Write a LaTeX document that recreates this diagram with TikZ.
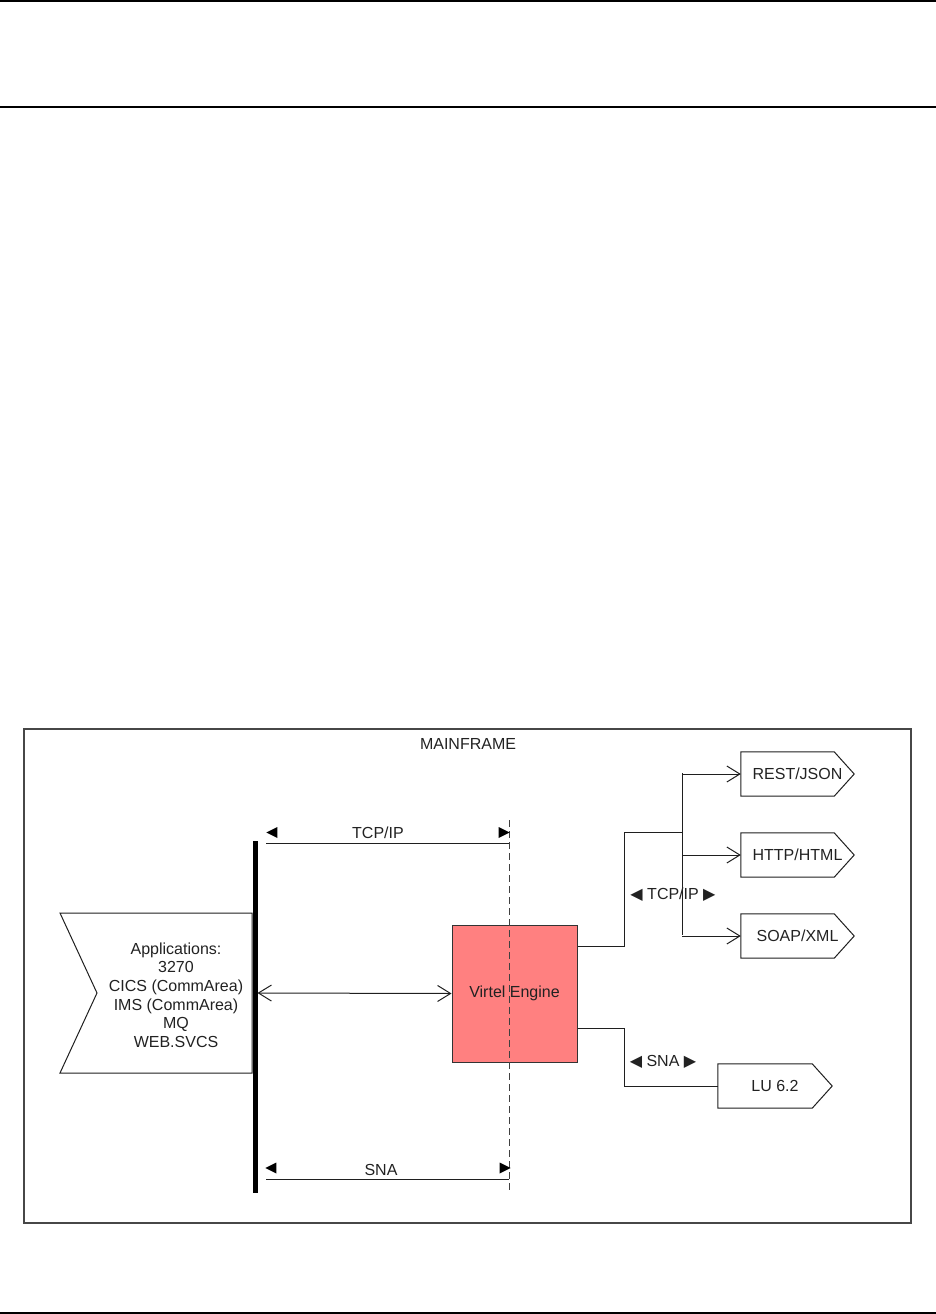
\documentclass[tikz,border=0pt]{standalone}
\usepackage{fontspec}
\setmainfont{Liberation Sans}
\newfontfamily\symfont{DejaVu Sans}
\usetikzlibrary{shapes.geometric,arrows.meta,calc}
\definecolor{virtelred}{RGB}{255,128,128}
\definecolor{txt}{RGB}{34,34,34}
\newcommand{\ltri}{{\symfont\fontsize{16}{16}\selectfont ◀}}
\newcommand{\rtri}{{\symfont\fontsize{16}{16}\selectfont ▶}}
\newcommand{\protoshape}[1]{%
  \draw[conn] (#1.north west) -- ($(#1.north east)+(-20,0)$) -- (#1.east)
    -- ($(#1.south east)+(-20,0)$) -- (#1.south west) -- cycle;}
\begin{document}
\begin{tikzpicture}[x=1pt,y=-1pt,
  every node/.style={font=\fontsize{16}{18.6}\selectfont, text=txt},
  pageline/.style={line width=2pt, black},
  frame/.style={draw=black!72, line width=1.3pt, minimum width=887pt, minimum height=494pt, inner sep=0pt},
  conn/.style={draw=black!88, line width=1pt},
  barb/.style={-{Straight Barb[length=13pt,width=16pt,line width=1pt]}},
  dbarb/.style={{Straight Barb[length=13pt,width=16pt,line width=1pt]}-{Straight Barb[length=13pt,width=16pt,line width=1pt]}},
  proto/.style={minimum width=113pt, minimum height=44pt, inner sep=0pt},
  tri/.style={isosceles triangle, fill=black, draw=none, inner sep=0pt, minimum height=11pt, minimum width=11pt, isosceles triangle stretches},
  dashline/.style={draw=black!75, line width=1pt, dash pattern=on 7pt off 4pt}
]
\useasboundingbox (0,0) rectangle (936,1314);

% page rules
\coordinate (p1l) at (0,1); \coordinate (p1r) at (936,1);
\coordinate (p2l) at (0,107); \coordinate (p2r) at (936,107);
\coordinate (p3l) at (0,1313); \coordinate (p3r) at (936,1313);
\draw[pageline] (p1l) -- (p1r);
\draw[pageline] (p2l) -- (p2r);
\draw[pageline] (p3l) -- (p3r);

% mainframe frame
\node[frame, draw] (frame) at (467.5,976) {};
\node[anchor=base] (mf) at (468,749.5) {MAINFRAME};

% applications shape
\coordinate (a1) at (60,913); \coordinate (a2) at (252,913);
\coordinate (a3) at (252,1073); \coordinate (a4) at (60,1073);
\coordinate (a5) at (97,993);
\draw[conn, fill=white] (a1) -- (a2) -- (a3) -- (a4) -- (a5) -- cycle;
\node[align=center] (apps) at (176,995) {Applications:\\3270\\CICS (CommArea)\\IMS (CommArea)\\MQ\\WEB.SVCS};

% thick bar
\coordinate (bartop) at (255,841); \coordinate (barbot) at (255,1193);
\draw[line width=5pt, black] (bartop) -- (barbot);
\coordinate (barmid) at (257.5,993);

% virtel engine
\node[draw=black!80, line width=1pt, fill=virtelred, minimum width=125pt, minimum height=137pt, inner sep=0pt] (virtel) at (514.5,993.5) {};
\coordinate (dtop) at (509,820); \coordinate (dbot) at (509,1191);
\draw[dashline] (dtop) -- (dbot);
\node (vlabel) at (514.5,993.5) {Virtel Engine};

\draw[conn, dbarb] (barmid) -- (virtel.west);

% top TCP/IP span
\coordinate (t1) at (266,843); \coordinate (t2) at (509,843);
\draw[conn] (t1) -- (t2);
\node[tri, shape border rotate=180] (tl) at (274,832.5) {};
\node[tri] (tr) at (502,832.5) {};
\node[anchor=base] (tcp1) at (378,838.5) {TCP/IP};

% bottom SNA span
\coordinate (s1) at (266,1179); \coordinate (s2) at (509,1179);
\draw[conn] (s1) -- (s2);
\node[tri, shape border rotate=180] (sl) at (273,1168) {};
\node[tri] (sr) at (503,1168) {};
\node[anchor=base] (sna1) at (381,1175) {SNA};

% protocol shapes
\node[proto] (rest) at (797.5,774) {REST/JSON};
\node[proto] (http) at (797.5,855) {HTTP/HTML};
\node[proto] (soap) at (797.5,936) {SOAP/XML};
\node[proto, minimum width=114pt] (lu) at (775,1086) {LU 6.2};
\protoshape{rest}
\protoshape{http}
\protoshape{soap}
\protoshape{lu}

% TCP/IP tree
\coordinate (j1) at (624,946); \coordinate (j2) at (624,832); \coordinate (j3) at (682,832);
\coordinate (vtop) at (682,773); \coordinate (vbot) at (682,935);
\draw[conn] (virtel.east |- j1) -- (j1) -- (j2) -- (j3);
\draw[conn] (vtop) -- (vbot);
\draw[conn, barb] (682,0 |- rest.west) -- (rest.west);
\draw[conn, barb] (682,0 |- http.west) -- (http.west);
\draw[conn, barb] (682,0 |- soap.west) -- (soap.west);
\node[anchor=base] (tcp2) at (673,899) {\ltri\ TCP/IP \rtri};

% SNA tree
\coordinate (k1) at (624,1028); \coordinate (k2) at (624,1086);
\draw[conn] (virtel.east |- k1) -- (k1) -- (k2) -- (lu.west);
\node[anchor=base] (sna2) at (663,1066) {\ltri\ SNA \rtri};
\end{tikzpicture}
\end{document}
